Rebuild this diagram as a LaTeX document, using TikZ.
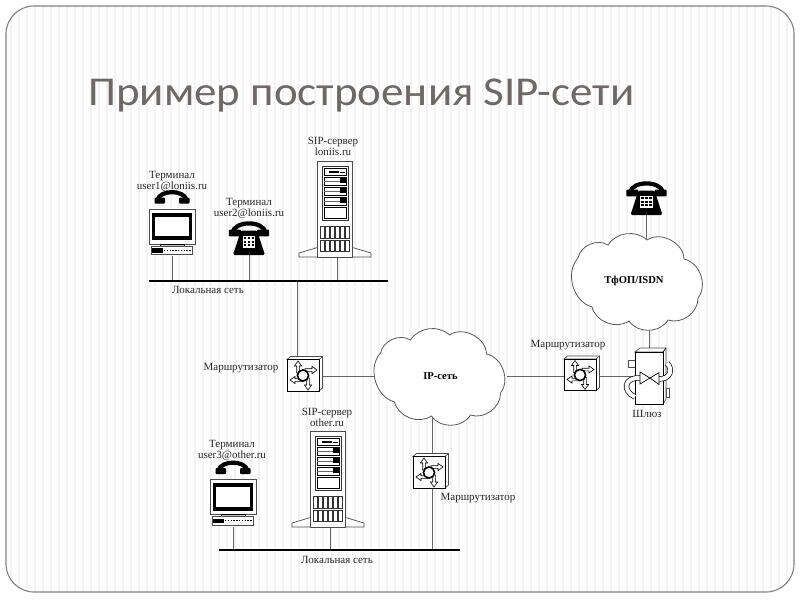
\documentclass[tikz,border=0pt]{standalone}
\usepackage{fontspec}
\setmainfont{Liberation Serif}
\newfontfamily\titlefont[FakeStretch=1.097]{Carlito}
\usetikzlibrary{calc}
\pgfdeclarelayer{bg}
\pgfsetlayers{bg,main}
\definecolor{framegray}{HTML}{7F7F7F}
\definecolor{stripe}{HTML}{F3F3F3}
\definecolor{titlegray}{HTML}{6E6969}
\definecolor{linegray}{HTML}{666666}
\newcommand{\handsetdraw}{%
  \fill[black,rounded corners=1pt] (-17.5,0.5) rectangle (-7,6.5);
  \fill[black,rounded corners=1pt] (7,0.5) rectangle (17.5,6.5);
  \draw[black,line width=4.2pt] (-14.5,3) .. controls (-12,-7.5) and (12,-7.5) .. (14.5,3);
}
\tikzset{
  x=1pt,y=-1pt,
  anchorbox/.style={inner sep=0pt,outer sep=0pt,minimum width=#1},
  lbl/.style={font=\fontsize{11}{11}\selectfont,align=center,inner sep=0pt,text=black!85},
  cloudtext/.style={font=\fontsize{10.6}{11}\selectfont\bfseries,inner sep=0pt,minimum width=133pt,minimum height=92pt},
  busbar/.style={fill=black,inner sep=0pt,outer sep=0pt,minimum height=2.6pt},
  wire/.style={draw=linegray,line width=0.9pt},
  devline/.style={draw=black!70,line width=0.7pt,fill=white},
  dirarrow/.pic={
    \draw[black,line width=0.6pt,fill=white,line join=miter]
      (0,-1.3)--(7,-1.3)--(7,-3.6)--(12,0)--(7,3.6)--(7,1.3)--(0,1.3)--cycle;
  },
  routericon/.pic={
    \draw[devline] (-18,-14.5)--(-14.5,-17.5)--(17.5,-17.5)--(17.5,14)--(14,17)--(14,-14.5)--cycle;
    \draw[devline,draw=black,line width=0.9pt] (-18,-14.5) rectangle (14,17);
    \draw[black!70,line width=0.6pt] (14,-14.5)--(17.5,-17.5);
    \pic[rotate=90] at (-7,-1) {dirarrow};
    \pic at (0,-4) {dirarrow};
    \pic[rotate=180] at (-3,6) {dirarrow};
    \pic[rotate=-90] at (3,4) {dirarrow};
    \draw[black,line width=1.6pt,fill=white] (-2,1.5) circle (5.6);
  },
  cloudicon/.pic={
    \draw[draw=black!65,line width=0.8pt,fill=white]
      (9,-41) to[bend left=62] (46,-22)
      to[bend left=58] (60,17)
      to[bend left=55] (30,39)
      to[bend left=58] (-9,40)
      to[bend left=55] (-46,26)
      to[bend left=58] (-60,-23)
      to[bend left=55] (-30,-36)
      to[bend left=50] (9,-41)--cycle;
  },
  phoneicon/.pic={
    \fill[black,rounded corners=1.5pt] (-8,-8)--(8,-8)--(16,16.5)--(-16,16.5)--cycle;
    \begin{scope}[yshift=9.5pt,scale=1.15]\handsetdraw\end{scope}
    \fill[white] (-6.2,-2.5) rectangle (6.2,9);
    \foreach \cx in {-5.2,-1.2,2.8} \foreach \cy in {-1.7,2,5.7}
      {\fill[black] (\cx,\cy) rectangle +(2.4,2.2);}
  },
  termicon/.pic={
    \begin{scope}[yshift=30.5pt]\handsetdraw\end{scope}
    \draw[devline] (-23,-18.5) rectangle (23,16.5);
    \fill[black] (-20,-15) rectangle (19.5,12.5);
    \fill[white] (-17,-11) rectangle (16.5,8.5);
    \draw[black,line width=0.7pt,fill=black!25] (-12,16.5) rectangle (12,18.5);
    \draw[devline] (-21,18.5) rectangle (20,27);
    \fill[black] (-20,20.5) rectangle (-9,25);
    \draw[black,line width=0.9pt,dash pattern=on 1.4pt off 1.4pt] (-8,22.7)--(19,22.7);
  },
  servericon/.pic={
    \draw[devline] (-17.5,38.5)--(-36,44)--(-36,48)--(36,48)--(36,44)--(17.5,38.5)--cycle;
    \draw[devline] (-17.5,-48) rectangle (17.5,48);
    \draw[draw=black!80,line width=0.7pt,fill=white] (-12.5,-43) rectangle (13,11);
    \draw[black,line width=0.7pt,fill=white] (-11,-41) rectangle (11.5,-33.5);
    \fill[black] (-6,-38.2) rectangle (4,-36.4);
    \fill[black] (5,-36.8) rectangle (9.5,-35.6);
    \foreach \ty in {-31.5,-21.5,-11.5}{
      \draw[black,line width=0.6pt,fill=white] (-11,\ty) rectangle (11.5,\ty+8);
      \fill[black!60] (-11,\ty+3.2) rectangle (7,\ty+4.8);
      \fill[black] (5,\ty+0.6) rectangle (10.8,\ty+5);
    }
    \draw[black,line width=0.6pt,fill=white] (-11,-1.5) rectangle (11.5,9);
    \foreach \cx in {-14.5,-9.5,-4.5,0.5,5.5,10.5} {
      \draw[black!80,line width=0.6pt,fill=white] (\cx,17) rectangle +(3.4,12);
      \draw[black!80,line width=0.6pt,fill=white] (\cx,31) rectangle +(3.4,11);
    }
  },
  gatewayicon/.pic={
    \draw[devline] (-21,-17) rectangle (-14,-10);
    \draw[devline] (17,11) rectangle (20,20);
    \draw[devline] (-14,-25)--(-9,-29)--(17,-29)--(17,22)--(14,27)--(14,-25)--cycle;
    \draw[devline,draw=black,line width=0.8pt] (-14,-25) rectangle (14,27);
    \draw[black,line width=0.7pt] (14,-25)--(17,-29);
    % circular arrows
    \draw[black,line width=5.4pt,line cap=butt] (-14,20) .. controls (-27,14) and (-25,0) .. (-9,1);
    \draw[white,line width=4pt,line cap=butt] (-14,20) .. controls (-27,14) and (-25,0) .. (-9,1);
    \draw[black,line width=0.7pt,fill=white] (-9,-5)--(1,1)--(-9,7)--cycle;
    \draw[black,line width=5.4pt,line cap=butt] (18,-14) .. controls (24,-8) and (22,2) .. (10,2);
    \draw[white,line width=4pt,line cap=butt] (18,-14) .. controls (24,-8) and (22,2) .. (10,2);
    \draw[black,line width=0.7pt,fill=white] (10,-4.5)--(1,1)--(10,7.5)--cycle;
  },
}
\begin{document}
\begin{tikzpicture}
\useasboundingbox (0,0) rectangle (800,600);
\begin{pgfonlayer}{bg}
  \begin{scope}
    \clip[rounded corners=28pt] (6,6) rectangle (794,592);
    \foreach \sx in {10,18,...,794} {\fill[stripe] (\sx,6) rectangle +(2.4,586);}
  \end{scope}
  \draw[framegray,line width=1.1pt,rounded corners=28pt] (6,6) rectangle (794,592);
\end{pgfonlayer}

\node[anchor=base west,inner sep=0pt,text=titlegray,font=\titlefont\fontsize{41}{44}\selectfont] (title) at (88,105) {Пример построения SIP-сети};

% devices
\pic at (172,227.5) {termicon};
\node[anchorbox=44pt,minimum height=60pt] (t1) at (172,226) {};
\node[lbl] (t1l) at (172,181) {Терминал\\user1@loniis.ru};
\pic at (249,238.5) {phoneicon};
\node[anchorbox=40pt,minimum height=33pt] (p2) at (249,238.5) {};
\node[lbl] (p2l) at (249,208.5) {Терминал\\user2@loniis.ru};
\pic at (335,209) {servericon};
\node[anchorbox=72pt,minimum height=96pt] (s1) at (337,209) {};
\node[lbl] (s1l) at (333,146.5) {SIP-сервер\\loniis.ru};
\node[busbar,minimum width=239pt] (lan1) at (268.5,281) {};
\node[lbl] (lan1l) at (208,290) {Локальная сеть};

\pic at (305,374) {routericon};
\node[anchorbox=35pt,minimum height=34pt] (r1) at (305,374) {};
\node[lbl] (r1l) at (241,368) {Маршрутизатор};

\pic at (440.5,376) {cloudicon};
\node[cloudtext] (ip) at (440.5,376) {IP-сеть};

\pic at (582,373.5) {routericon};
\node[anchorbox=35pt,minimum height=34pt] (r2) at (582,373.5) {};
\node[lbl] (r2l) at (568,345) {Маршрутизатор};

\pic at (649,377) {gatewayicon};
\node[anchorbox=40pt,minimum height=58pt] (gw) at (649,377) {};
\node[lbl] (gwl) at (647,413.5) {Шлюз};

\pic at (638,281) {cloudicon};
\node[cloudtext] (pstn) at (634,281) {ТфОП/ISDN};
\pic at (646.5,198.5) {phoneicon};
\node[anchorbox=40pt,minimum height=33pt] (p3) at (646.5,198) {};

\pic at (431,471) {routericon};
\node[anchorbox=35pt,minimum height=34pt] (r3) at (432,471) {};
\node[lbl] (r3l) at (478,498) {Маршрутизатор};

\pic at (233,498) {termicon};
\node[anchorbox=44pt,minimum height=60pt] (t3) at (233,497) {};
\node[lbl] (t3l) at (232,450.5) {Терминал\\user3@other.ru};
\pic at (328,479) {servericon};
\node[anchorbox=72pt,minimum height=96pt] (s2) at (330,479) {};
\node[lbl] (s2l) at (327,417.5) {SIP-сервер\\other.ru};
\node[busbar,minimum width=241pt] (lan2) at (339.5,550) {};
\node[lbl] (lan2l) at (337,560) {Локальная сеть};

% connectors
\begin{pgfonlayer}{bg}
  \draw[wire] (t1.south) -- (t1.south |- lan1.center);
  \draw[wire] (p2.south) -- (p2.south |- lan1.center);
  \draw[wire] (s1.south) -- (s1.south |- lan1.center);
  \draw[wire] ([xshift=-8pt]r1.north) -- ([xshift=-8pt]r1.north |- lan1.center);
  \draw[wire] ([yshift=-2pt]r1.east) -- ([yshift=-2pt]r1.east -| ip.west);
  \draw[wire] (ip.east) -- (ip.east -| r2.west);
  \draw[wire] (ip.east -| r2.east) -- (ip.east -| gw.center);
  \draw[wire] (gw.north) -- (gw.north |- pstn.center);
  \draw[wire] (p3.south) -- (p3.south |- pstn.center);
  \draw[wire] (r3.north) -- (r3.north |- ip.center);
  \draw[wire] (r3.south) -- (r3.south |- lan2.center);
  \draw[wire] (t3.south) -- (t3.south |- lan2.center);
  \draw[wire] (s2.south) -- (s2.south |- lan2.center);
\end{pgfonlayer}
\end{tikzpicture}
\end{document}
